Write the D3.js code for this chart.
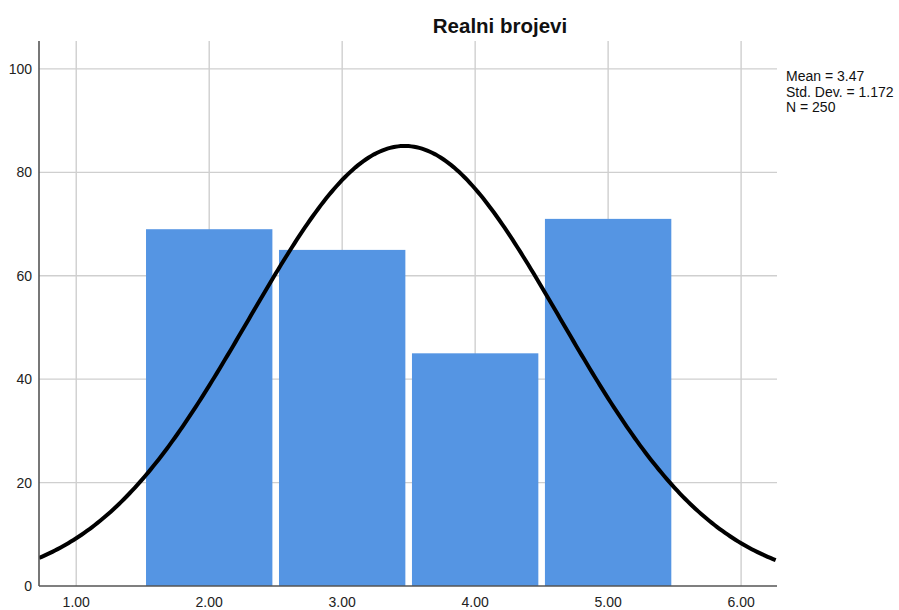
<!DOCTYPE html>
<html>
<head>
<meta charset="utf-8">
<script src="https://cdn.jsdelivr.net/npm/d3@7"></script>
<style>
  body{margin:0;background:#fff;}
  text{font-family:"Liberation Sans",Arial,sans-serif;}
</style>
</head>
<body>
<div id="chart"></div>
<script>
// histogram bins (lower, upper) and counts
const binLo=[1.5,2.5,3.5,4.5];
const binHi=[2.5,3.5,4.5,5.5];
const counts=[69,65,45,71];
const xTicks=[1,2,3,4,5,6];
const yTicks=[0,20,40,60,80,100];
const stats=["Mean = 3.47","Std. Dev. = 1.172","N = 250"];
const mean=3.47, sd=1.172, n=250, binW=1;

const W=899,H=610;
const m={top:41,right:122,bottom:24,left:39};
const w=W-m.left-m.right, ih=H-m.top-m.bottom;
const svg=d3.select("#chart").append("svg").attr("width",W).attr("height",H);
const g=svg.append("g").attr("transform",`translate(${m.left},${m.top})`);

const x=d3.scaleLinear().domain([0.72,6.27]).range([0,w]);
const y=d3.scaleLinear().domain([0,105.4]).range([ih,0]);

g.append("clipPath").attr("id","clip").append("rect").attr("width",w).attr("height",ih);

// grid
g.selectAll(".gx").data(xTicks).join("line")
  .attr("x1",d=>x(d)).attr("x2",d=>x(d)).attr("y1",0).attr("y2",ih)
  .attr("stroke","#cfcfcf").attr("stroke-width",1.4);
g.selectAll(".gy").data(yTicks.filter(d=>d>0)).join("line")
  .attr("x1",0).attr("x2",w).attr("y1",d=>y(d)).attr("y2",d=>y(d))
  .attr("stroke","#cfcfcf").attr("stroke-width",1.4);

// bars
const bins=counts.map((c,i)=>({lo:binLo[i],hi:binHi[i],c}));
g.selectAll(".bar").data(bins).join("rect")
  .attr("x",d=>x(d.lo)+3.3).attr("width",d=>x(d.hi)-x(d.lo)-6.6)
  .attr("y",d=>y(d.c)).attr("height",d=>y(0)-y(d.c))
  .attr("fill","#5595e3");

// normal curve from the stats shown
const pts=d3.range(0.72,6.28,0.02).map(v=>[v,n*binW*Math.exp(-0.5*((v-mean)/sd)**2)/(sd*Math.sqrt(2*Math.PI))]);
g.append("path").datum(pts).attr("clip-path","url(#clip)")
  .attr("d",d3.line().x(d=>x(d[0])).y(d=>y(d[1])))
  .attr("fill","none").attr("stroke","#000").attr("stroke-width",4);

// axes
g.append("line").attr("x1",0).attr("x2",0).attr("y1",0).attr("y2",ih)
  .attr("stroke","#555").attr("stroke-width",1.6);
g.append("line").attr("x1",0).attr("x2",w).attr("y1",ih).attr("y2",ih)
  .attr("stroke","#555").attr("stroke-width",1.6);

g.selectAll(".yl").data(yTicks).join("text")
  .attr("x",-7).attr("y",d=>y(d)+5).attr("text-anchor","end")
  .attr("font-size",14).attr("fill","#222").text(d=>d);
g.selectAll(".xl").data(xTicks).join("text")
  .attr("x",d=>x(d)).attr("y",ih+21).attr("text-anchor","middle")
  .attr("font-size",14).attr("fill","#222").text(d=>d.toFixed(2));

// title
svg.append("text").attr("x",500).attr("y",33).attr("text-anchor","middle")
  .attr("font-size",20.5).attr("font-weight","bold").attr("fill","#111").text("Realni brojevi");

// stats box
svg.selectAll(".st").data(stats).join("text")
  .attr("x",786).attr("y",(d,i)=>81+i*15.5)
  .attr("font-size",14).attr("fill","#111").text(d=>d);
</script>
</body>
</html>
